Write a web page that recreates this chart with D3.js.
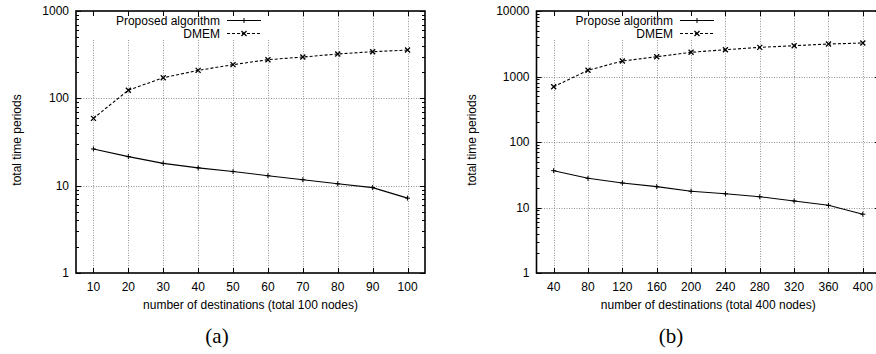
<!DOCTYPE html>
<html>
<head>
<meta charset="utf-8">
<script src="https://cdn.jsdelivr.net/npm/d3@7"></script>
<style>
html,body{margin:0;padding:0;background:#fff;}
svg{display:block;}
text{font-family:"Liberation Sans",Arial,Helvetica,sans-serif;fill:#000;}
</style>
</head>
<body>
<svg id="chart" width="876" height="354"></svg>
<script>
// ---- data ----
const xA = [10,20,30,40,50,60,70,80,90,100];
const proposedA = [26.3,21.5,18,16,14.5,13,11.7,10.5,9.5,7.2];
const dmemA = [59,124,172,209,243,277,297,322,342,357];
const yTicksA = [1,10,100,1000];

const xB = [40,80,120,160,200,240,280,320,360,400];
const proposedB = [36.5,27.9,23.7,20.8,17.7,16.2,14.6,12.6,10.8,7.9];
const dmemB = [698,1245,1725,2005,2340,2565,2786,2950,3133,3245];
const yTicksB = [1,10,100,1000,10000];

const legendA = ["Proposed algorithm","DMEM"];
const legendB = ["Propose algorithm","DMEM"];
const xLabelA = "number of destinations (total 100 nodes)";
const xLabelB = "number of destinations (total 400 nodes)";
const yLabel = "total time periods";
const captions = ["(a)","(b)"];

const svg = d3.select("#chart");

function panel(cfg){
  const g = svg.append("g");
  const x = d3.scaleLinear().domain(cfg.xDomain).range([cfg.left, cfg.right]);
  const y = d3.scaleLog().domain(cfg.yDomain).range([cfg.bottom, cfg.top]);
  const clipId = "clip" + cfg.id;
  svg.append("clipPath").attr("id", clipId).append("rect")
    .attr("x", cfg.left).attr("y", cfg.top).attr("width", cfg.right-cfg.left).attr("height", cfg.bottom-cfg.top);

  // grid
  const grid = g.append("g").attr("stroke","#777").attr("stroke-width",0.8).attr("stroke-dasharray","1,1.5");
  cfg.xs.forEach(v => {
    const px = Math.round(x(v))+0.5;
    grid.append("line").attr("x1",px).attr("x2",px)
      .attr("y1", px < cfg.keyRight ? cfg.keyBottom : cfg.top).attr("y2",cfg.bottom);
  });
  cfg.yTicks.forEach(v => {
    if (v === cfg.yDomain[0] || v === cfg.yDomain[1]) return;
    const py = Math.round(y(v))+0.5;
    grid.append("line").attr("x1",cfg.left).attr("x2",cfg.right).attr("y1",py).attr("y2",py);
  });

  // ticks (mirrored, inward)
  const tk = g.append("g").attr("stroke","#000").attr("stroke-width",1);
  cfg.xs.forEach(v => {
    const px = Math.round(x(v))+0.5;
    tk.append("line").attr("x1",px).attr("x2",px).attr("y1",cfg.bottom).attr("y2",cfg.bottom-5);
    tk.append("line").attr("x1",px).attr("x2",px).attr("y1",cfg.top).attr("y2",cfg.top+5);
  });
  const ld = Math.log10(cfg.yDomain[0]), hd = Math.log10(cfg.yDomain[1]);
  for (let d = ld; d < hd; d++) {
    for (let m = 2; m <= 9; m++) {
      const py = Math.round(y(m*Math.pow(10,d)))+0.5;
      tk.append("line").attr("x1",cfg.left).attr("x2",cfg.left+3).attr("y1",py).attr("y2",py);
      tk.append("line").attr("x1",cfg.right).attr("x2",cfg.right-3).attr("y1",py).attr("y2",py);
    }
  }
  cfg.yTicks.forEach(v => {
    const py = Math.round(y(v))+0.5;
    tk.append("line").attr("x1",cfg.left).attr("x2",cfg.left+5).attr("y1",py).attr("y2",py);
    tk.append("line").attr("x1",cfg.right).attr("x2",cfg.right-5).attr("y1",py).attr("y2",py);
  });

  // tick labels
  cfg.xs.forEach(v => {
    g.append("text").attr("x", x(v)).attr("y", cfg.bottom+18).attr("text-anchor","middle")
      .attr("font-size",12).text(v);
  });
  cfg.yTicks.forEach(v => {
    g.append("text").attr("x", cfg.left-7).attr("y", y(v)+4).attr("text-anchor","end")
      .attr("font-size",12).text(v);
  });

  // axis labels
  g.append("text").attr("x",(cfg.left+cfg.right)/2).attr("y",cfg.bottom+36).attr("text-anchor","middle")
    .attr("font-size",12).text(cfg.xLabel);
  g.append("text").attr("transform",`translate(${cfg.yLabelX},${(cfg.top+cfg.bottom)/2-2}) rotate(-90)`)
    .attr("text-anchor","middle").attr("font-size",12).text(yLabel);
  g.append("text").attr("x",cfg.capX).attr("y",343).attr("text-anchor","middle")
    .style("font-family","'Liberation Serif','Times New Roman',serif").attr("font-size",21).text(cfg.caption);

  // series
  const dg = g.append("g").attr("clip-path",`url(#${clipId})`);
  const line = d3.line().x(d => x(d[0])).y(d => y(d[1]));
  const p = cfg.xs.map((v,i)=>[v,cfg.proposed[i]]);
  const q = cfg.xs.map((v,i)=>[v,cfg.dmem[i]]);
  dg.append("path").datum(p).attr("d",line).attr("fill","none").attr("stroke","#000").attr("stroke-width",1.1);
  dg.append("path").datum(q).attr("d",line).attr("fill","none").attr("stroke","#000").attr("stroke-width",1.1)
    .attr("stroke-dasharray","3,2");
  const plus = (sel, cx, cy) => {
    sel.append("path").attr("d",`M${cx-2.5},${cy}H${cx+2.5}M${cx},${cy-2.5}V${cy+2.5}`)
      .attr("stroke","#000").attr("stroke-width",1);
  };
  const cross = (sel, cx, cy) => {
    sel.append("path").attr("d",`M${cx-2.5},${cy-2.5}L${cx+2.5},${cy+2.5}M${cx-2.5},${cy+2.5}L${cx+2.5},${cy-2.5}`)
      .attr("stroke","#000").attr("stroke-width",1.3);
  };
  p.forEach(d => plus(dg, x(d[0]), y(d[1])));
  q.forEach(d => cross(dg, x(d[0]), y(d[1])));

  // legend
  const ly = [20.5, 33.5];
  cfg.legend.forEach((t,i) => {
    g.append("text").attr("x",cfg.legTextX).attr("y",ly[i]+4).attr("text-anchor","end")
      .attr("font-size",12).text(t);
    g.append("line").attr("x1",cfg.legLineX).attr("x2",cfg.legLineX+34).attr("y1",ly[i]).attr("y2",ly[i])
      .attr("stroke","#000").attr("stroke-width",1.1).attr("stroke-dasharray", i===1 ? "3,2" : null);
    if (i===0) plus(g, cfg.legLineX+17, ly[i]); else cross(g, cfg.legLineX+17, ly[i]);
  });

  // border
  g.append("rect").attr("x",cfg.left).attr("y",cfg.top).attr("width",cfg.right-cfg.left).attr("height",cfg.bottom-cfg.top)
    .attr("fill","none").attr("stroke","#000").attr("stroke-width",1.6);
}

panel({id:"a", left:76, right:425, top:11, bottom:273, xDomain:[5,105], yDomain:[1,1000],
  xs:xA, proposed:proposedA, dmem:dmemA, yTicks:yTicksA, keyRight:285, keyBottom:40,
  legend:legendA, legTextX:220, legLineX:227, xLabel:xLabelA, yLabelX:21, capX:217, caption:captions[0]});
panel({id:"b", left:536.5, right:880, top:11, bottom:273, xDomain:[20,420], yDomain:[1,10000],
  xs:xB, proposed:proposedB, dmem:dmemB, yTicks:yTicksB, keyRight:710, keyBottom:40,
  legend:legendB, legTextX:673, legLineX:680, xLabel:xLabelB, yLabelX:476, capX:671, caption:captions[1]});
</script>
</body>
</html>
